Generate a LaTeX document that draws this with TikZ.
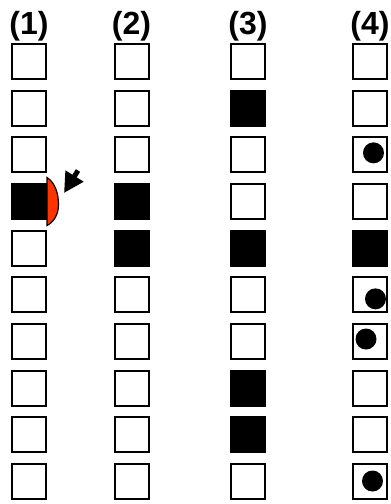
\documentclass[tikz,border=0pt]{standalone}
\usepackage{fontspec}
\setmainfont{Liberation Sans}
\usepackage{xcolor}
\usepackage{tikz}
\usetikzlibrary{arrows.meta, positioning}
\definecolor{lensred}{HTML}{FF3300}

\begin{document}
\begin{tikzpicture}[node distance=46.67pt]
    % Define styles
    \tikzstyle{cell} = [rectangle, minimum width=34pt, minimum height=35pt, inner sep=0pt, draw=black, line width=2pt, fill=white]
    \tikzstyle{filled} = [cell, fill=black]
    \tikzstyle{ball} = [circle, minimum size=21pt, inner sep=0pt, fill=black]
    \tikzstyle{heading} = [inner sep=0pt, font=\fontsize{32}{34}\selectfont\bfseries]
    \tikzstyle{lens} = [draw=black, line width=1.2pt, fill=lensred]
    \tikzstyle{pointer} = [line width=5pt, -{Triangle[length=20pt,width=20pt]}]

    \useasboundingbox (0,0) rectangle (391pt,-504pt);

    % Column 1
    \node (a1) [cell] at (29pt,-61.5pt) {};
    \node (a2) [cell, below of=a1] {};
    \node (a3) [cell, below of=a2] {};
    \node (a4) [filled, below of=a3] {};
    \node (a5) [cell, below of=a4] {};
    \node (a6) [cell, below of=a5] {};
    \node (a7) [cell, below of=a6] {};
    \node (a8) [cell, below of=a7] {};
    \node (a9) [cell, below of=a8] {};
    \node (a10) [cell, below of=a9] {};

    % Column 2
    \node (b1) [cell] at (131.5pt,-61.5pt) {};
    \node (b2) [cell, below of=b1] {};
    \node (b3) [cell, below of=b2] {};
    \node (b4) [filled, below of=b3] {};
    \node (b5) [filled, below of=b4] {};
    \node (b6) [cell, below of=b5] {};
    \node (b7) [cell, below of=b6] {};
    \node (b8) [cell, below of=b7] {};
    \node (b9) [cell, below of=b8] {};
    \node (b10) [cell, below of=b9] {};

    % Column 3
    \node (c1) [cell] at (248pt,-61.5pt) {};
    \node (c2) [filled, below of=c1] {};
    \node (c3) [cell, below of=c2] {};
    \node (c4) [cell, below of=c3] {};
    \node (c5) [filled, below of=c4] {};
    \node (c6) [cell, below of=c5] {};
    \node (c7) [cell, below of=c6] {};
    \node (c8) [filled, below of=c7] {};
    \node (c9) [filled, below of=c8] {};
    \node (c10) [cell, below of=c9] {};

    % Column 4
    \node (d1) [cell] at (370pt,-61.5pt) {};
    \node (d2) [cell, below of=d1] {};
    \node (d3) [cell, below of=d2] {};
    \node (d4) [cell, below of=d3] {};
    \node (d5) [filled, below of=d4] {};
    \node (d6) [cell, below of=d5] {};
    \node (d7) [cell, below of=d6] {};
    \node (d8) [cell, below of=d7] {};
    \node (d9) [cell, below of=d8] {};
    \node (d10) [cell, below of=d9] {};

    % Dots
    \node (d3dot) [ball] at ([xshift=3.5pt,yshift=2pt]d3.center) {};
    \node (d6dot) [ball] at ([xshift=5.5pt,yshift=-4pt]d6.center) {};
    \node (d7dot) [ball] at ([xshift=-4pt,yshift=2.5pt]d7.center) {};
    \node (d10dot) [ball] at ([xshift=2.5pt,yshift=0.5pt]d10.center) {};

    % Headings
    \node (lab1) [heading, above=2pt of a1] {(1)};
    \node (lab2) [heading, above=2pt of b1] {(2)};
    \node (lab3) [heading, above=2pt of c1] {(3)};
    \node (lab4) [heading, above=2pt of d1] {(4)};

    % Lens and pointer
    \draw [lens] ([yshift=24pt]a4.east) .. controls +(8pt,-5pt) and +(0pt,11pt) .. ([xshift=11.5pt,yshift=-3pt]a4.east) .. controls +(0pt,-11pt) and +(6pt,3pt) .. ([yshift=-24pt]a4.east) -- cycle;
    \coordinate (tail) at ([xshift=31pt,yshift=31pt]a4.east);
    \coordinate (tip) at ([xshift=17pt,yshift=8.5pt]a4.east);
    \draw [pointer] (tail) -- (tip);
\end{tikzpicture}
\end{document}
